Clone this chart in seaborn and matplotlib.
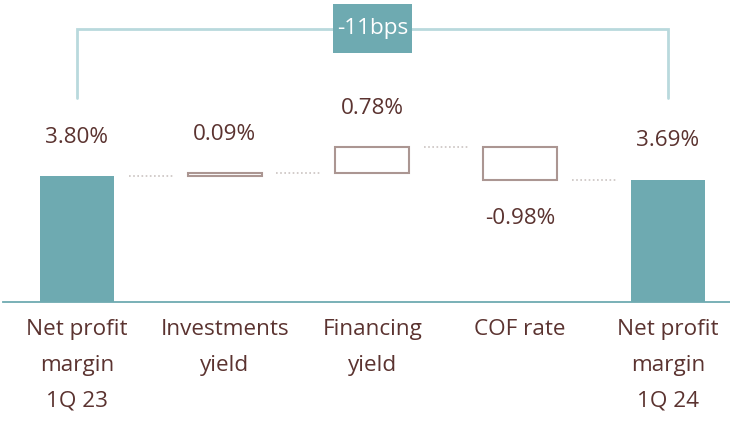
import matplotlib
matplotlib.use("Agg")
import matplotlib.pyplot as plt
import seaborn as sns
import pandas as pd
import numpy as np
from matplotlib.patches import Rectangle

categories = ["Net profit\nmargin\n1Q 23", "Investments\nyield", "Financing\nyield",
              "COF rate", "Net profit\nmargin\n1Q 24"]
changes = [3.80, 0.09, 0.78, -0.98, 3.69]
labels = ["3.80%", "0.09%", "0.78%", "-0.98%", "3.69%"]
is_total = [True, False, False, False, True]
bracket_label = "-11bps"

TEAL = "#6eaab1"
LIGHT_TEAL = "#b9d9dd"
BROWN = "#5b3330"
BOX_EDGE = "#ab9692"
DOT = "#cbc3c1"
FS = 16.2

sns.set_theme(style="white")
plt.rcParams["font.family"] = ["Open Sans", "DejaVu Sans"]

fig = plt.figure(figsize=(7.3, 4.23), dpi=100)
ax = fig.add_axes([3 / 730, 1 - 302 / 423, 727 / 730, 302 / 423])

# compute waterfall bottoms/tops
bottoms, tops = [], []
level = 0.0
for v, t in zip(changes, is_total):
    if t:
        bottoms.append(0.0)
        tops.append(v)
        level = v
    else:
        bottoms.append(level)
        level = level + v
        tops.append(level)

df = pd.DataFrame({"cat": categories,
                   "val": [v if t else np.nan for v, t in zip(changes, is_total)]})
sns.barplot(data=df, x="cat", y="val", order=categories, color=TEAL,
            saturation=1, width=0.5, ax=ax, edgecolor="none")

x = np.arange(len(categories))
for i, (b, tp, t) in enumerate(zip(bottoms, tops, is_total)):
    if not t:
        lo, hi = min(b, tp), max(b, tp)
        ax.bar(i, hi - lo, bottom=lo, width=0.5, facecolor="white",
               edgecolor=BOX_EDGE, linewidth=1.5, zorder=3)

# connectors
for i in range(len(categories) - 1):
    y = tops[i]
    ax.plot([i + 0.35, i + 0.65], [y, y], color=DOT, lw=1.2,
            linestyle=(0, (1, 1.5)), zorder=2)

# value labels
for i, (b, tp, v, lab) in enumerate(zip(bottoms, tops, changes, labels)):
    if v >= 0:
        ax.text(i, max(b, tp) + 1.18, lab, ha="center", va="center",
                fontsize=FS, color=BROWN)
    else:
        ax.text(i, min(b, tp) - 1.17, lab, ha="center", va="center",
                fontsize=FS, color=BROWN)

# bracket
yb = 8.25
ax.plot([0, 0, 4, 4], [6.16, yb, yb, 6.16], color=LIGHT_TEAL, lw=2,
        solid_joinstyle="miter", zorder=1, clip_on=False)
ax.add_patch(Rectangle((2 - 0.265, yb - 0.74), 0.53, 1.48, facecolor=TEAL,
                       edgecolor="none", zorder=4, clip_on=False))
ax.text(2, yb, bracket_label, ha="center", va="center", fontsize=FS,
        color="white", zorder=5)

ax.set_xlim(-0.5, 4.42)
ax.set_ylim(0, 9.12)
ax.set_xlabel("")
ax.set_ylabel("")
ax.set_yticks([])
ax.set_xticks(x)
ax.set_xticklabels(categories, fontsize=FS, color=BROWN, linespacing=1.93)
ax.tick_params(axis="x", length=0, pad=12)
for s in ["top", "right", "left"]:
    ax.spines[s].set_visible(False)
ax.spines["bottom"].set_color(TEAL)
ax.spines["bottom"].set_linewidth(1.3)

fig.savefig("out.png", dpi=100)
